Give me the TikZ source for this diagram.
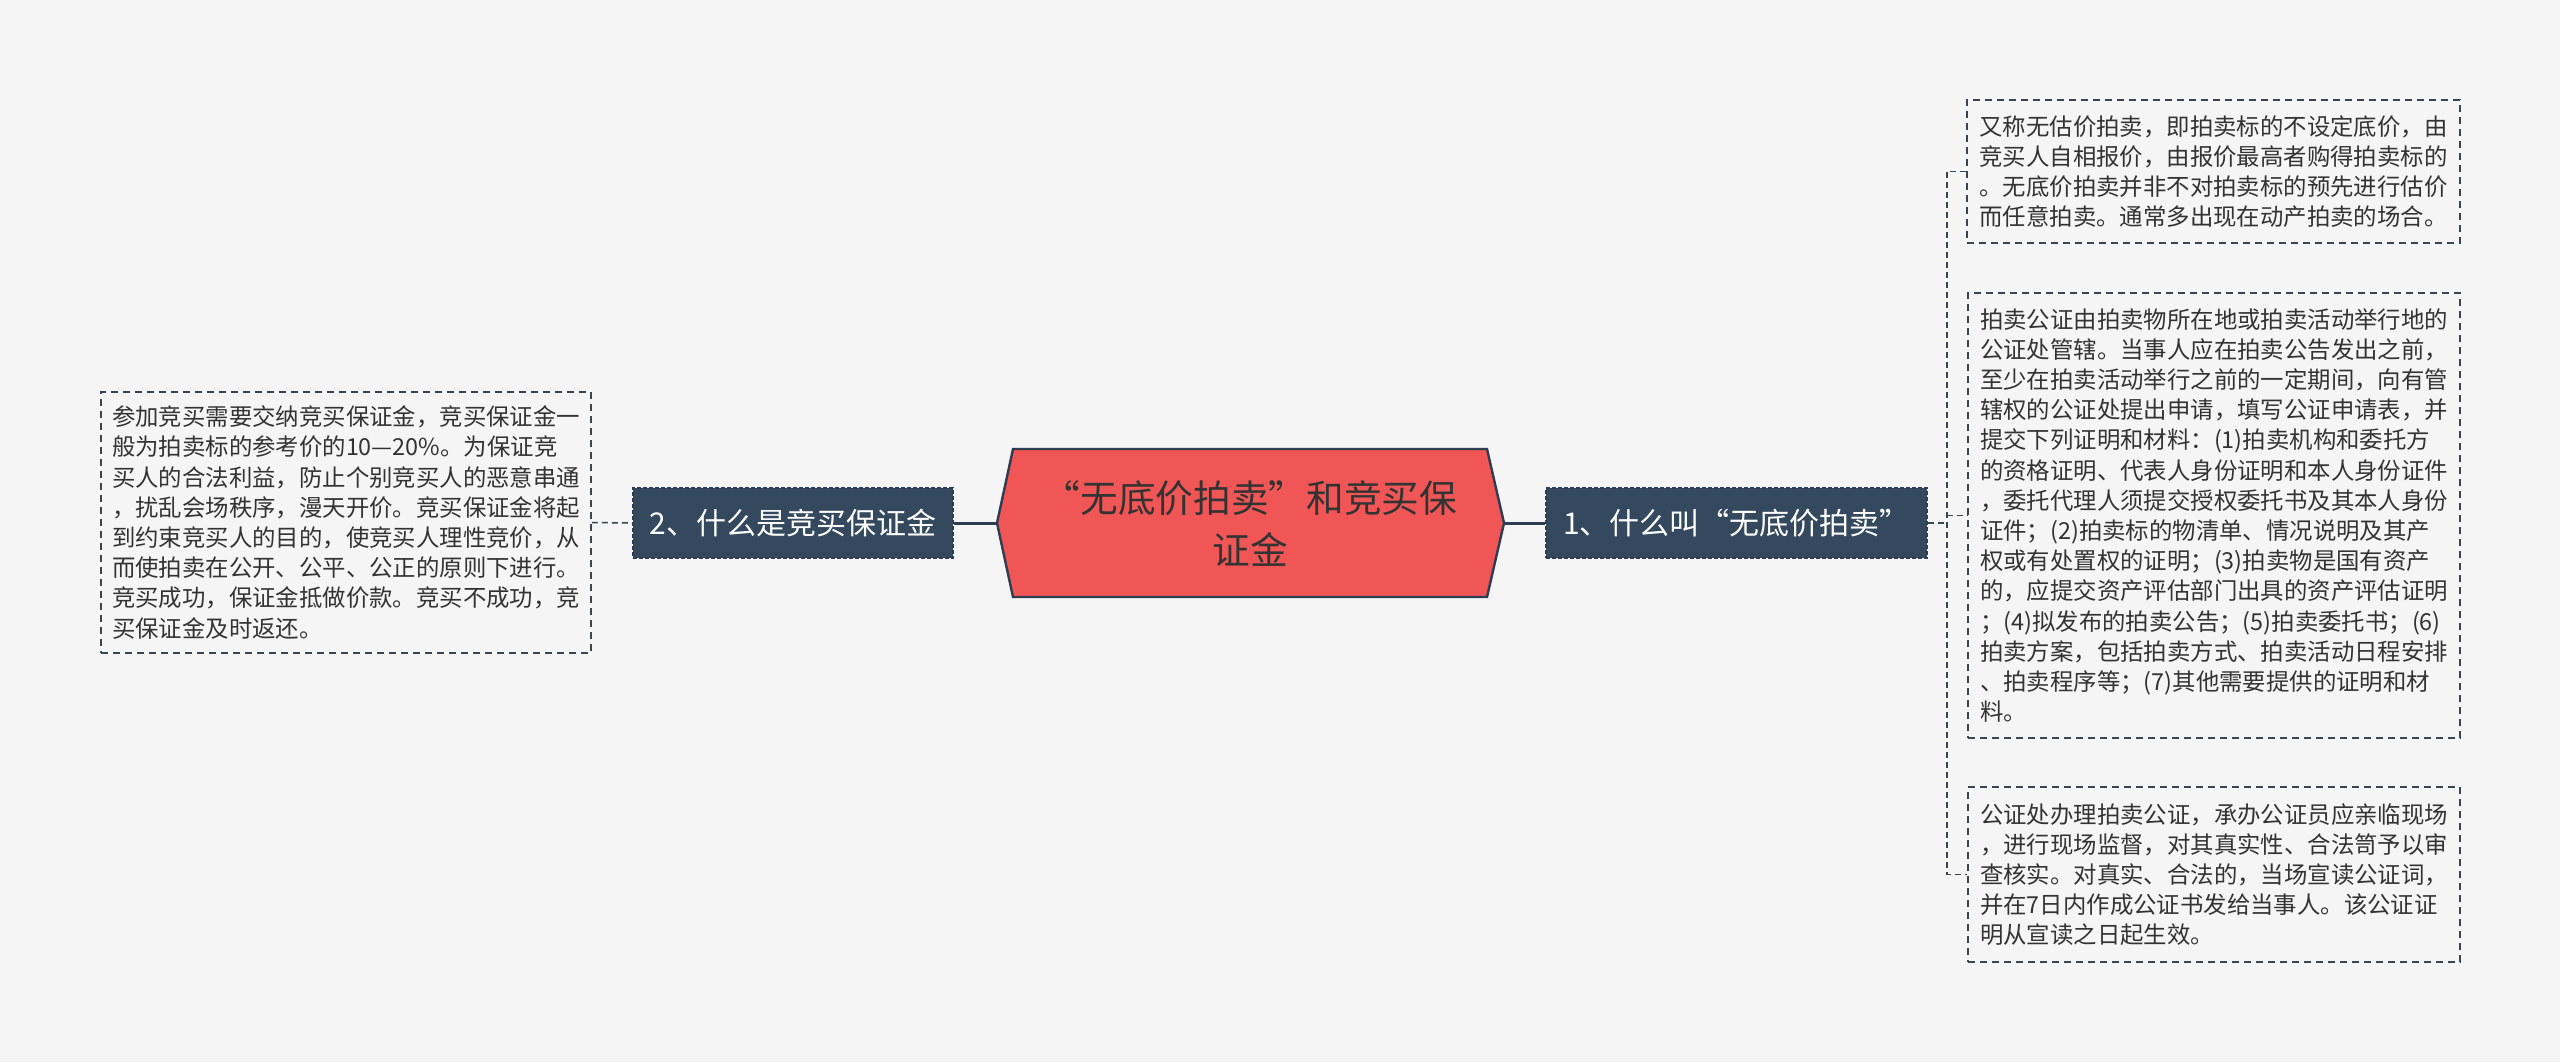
\documentclass[tikz,border=0pt]{standalone}
\usepackage{fontspec}
\setmainfont{Noto Sans CJK SC}
\definecolor{bgcol}{HTML}{F5F5F5}
\definecolor{rootred}{HTML}{F05656}
\definecolor{rootline}{HTML}{2F3D52}
\definecolor{topicblue}{HTML}{34495E}
\definecolor{leafline}{HTML}{3A4550}
\definecolor{leaftext}{HTML}{333333}
\tikzset{
  leaf/.style={draw=leafline, dash pattern=on 3.3pt off 2.7pt, line width=0.9pt,
    fill=bgcol, text=leaftext, font=\fontsize{11.7}{15.1}\selectfont, align=left, inner sep=0pt},
  topic/.style={fill=topicblue, draw=rootline, dash pattern=on 2pt off 1pt, line width=0.6pt,
    text=white, font=\fontsize{15}{18}\selectfont, minimum height=35pt, inner sep=0pt},
  rootshape/.style={fill=rootred, draw=rootline, line width=1.2pt},
  trunk/.style={rootline, line width=1.5pt},
  twig/.style={leafline, line width=0.75pt, dash pattern=on 3pt off 2pt},
}
\begin{document}
\begin{tikzpicture}[x=0.5pt, y=-0.5pt]
  \fill[bgcol] (0,0) rectangle (2560,1062);
  \useasboundingbox (0,0) rectangle (2560,1062);

  % Root
  \draw[rootshape] (1013,449) -- (1487,449) -- (1504,523) -- (1487,597)
    -- (1013,597) -- (997,523) -- cycle;
  \node[text=leaftext, font=\fontsize{18.85}{26}\selectfont, align=center] (root) at (1250,523)
    {“无底价拍卖”和竞买保\\证金};
  \coordinate (rootL) at (997,523);
  \coordinate (rootR) at (1504,523);

  % Topics
  \node[topic, minimum width=160pt] (two) at (793,523) {2、什么是竞买保证金};
  \node[topic, minimum width=190.5pt] (one) at (1736.5,523) {1、什么叫“无底价拍卖”};

  % Leaves
  \node[leaf, minimum width=245pt, minimum height=130.5pt] (bond) at (346,522.5)
    {参加竞买需要交纳竞买保证金，竞买保证金一\\
     般为拍卖标的参考价的10—20\%。为保证竞\\
     买人的合法利益，防止个别竞买人的恶意串通\\
     ，扰乱会场秩序，漫天开价。竞买保证金将起\\
     到约束竞买人的目的，使竞买人理性竞价，从\\
     而使拍卖在公开、公平、公正的原则下进行。\\
     竞买成功，保证金抵做价款。竞买不成功，竞\\
     买保证金及时返还。};
  \node[leaf, minimum width=246.5pt, minimum height=71.5pt] (def) at (2213.5,171.5)
    {又称无估价拍卖，即拍卖标的不设定底价，由\\
     竞买人自相报价，由报价最高者购得拍卖标的\\
     。无底价拍卖并非不对拍卖标的预先进行估价\\
     而任意拍卖。通常多出现在动产拍卖的场合。};
  \node[leaf, minimum width=246pt, minimum height=222.5pt] (notary) at (2214,515.5)
    {拍卖公证由拍卖物所在地或拍卖活动举行地的\\
     公证处管辖。当事人应在拍卖公告发出之前，\\
     至少在拍卖活动举行之前的一定期间，向有管\\
     辖权的公证处提出申请，填写公证申请表，并\\
     提交下列证明和材料：(1)拍卖机构和委托方\\
     的资格证明、代表人身份证明和本人身份证件\\
     ，委托代理人须提交授权委托书及其本人身份\\
     证件；(2)拍卖标的物清单、情况说明及其产\\
     权或有处置权的证明；(3)拍卖物是国有资产\\
     的，应提交资产评估部门出具的资产评估证明\\
     ；(4)拟发布的拍卖公告；(5)拍卖委托书；(6)\\
     拍卖方案，包括拍卖方式、拍卖活动日程安排\\
     、拍卖程序等；(7)其他需要提供的证明和材\\
     料。};
  \node[leaf, minimum width=246pt, minimum height=87.5pt] (onsite) at (2214,874.5)
    {公证处办理拍卖公证，承办公证员应亲临现场\\
     ，进行现场监督，对其真实性、合法笥予以审\\
     查核实。对真实、合法的，当场宣读公证词，\\
     并在7日内作成公证书发给当事人。该公证证\\
     明从宣读之日起生效。};

  % Connectors
  \draw[trunk] (two.east) -- (rootL);
  \draw[trunk] (rootR) -- (one.west);
  \draw[twig] (bond.east) -- (two.west);
  \coordinate (fork) at (1947,523);
  \draw[twig] (one.east) -- (fork);
  \draw[twig] (def.west) -| (fork) |- (onsite.west);
  \draw[twig] (fork |- notary.west) -- (notary.west);
\end{tikzpicture}
\end{document}
